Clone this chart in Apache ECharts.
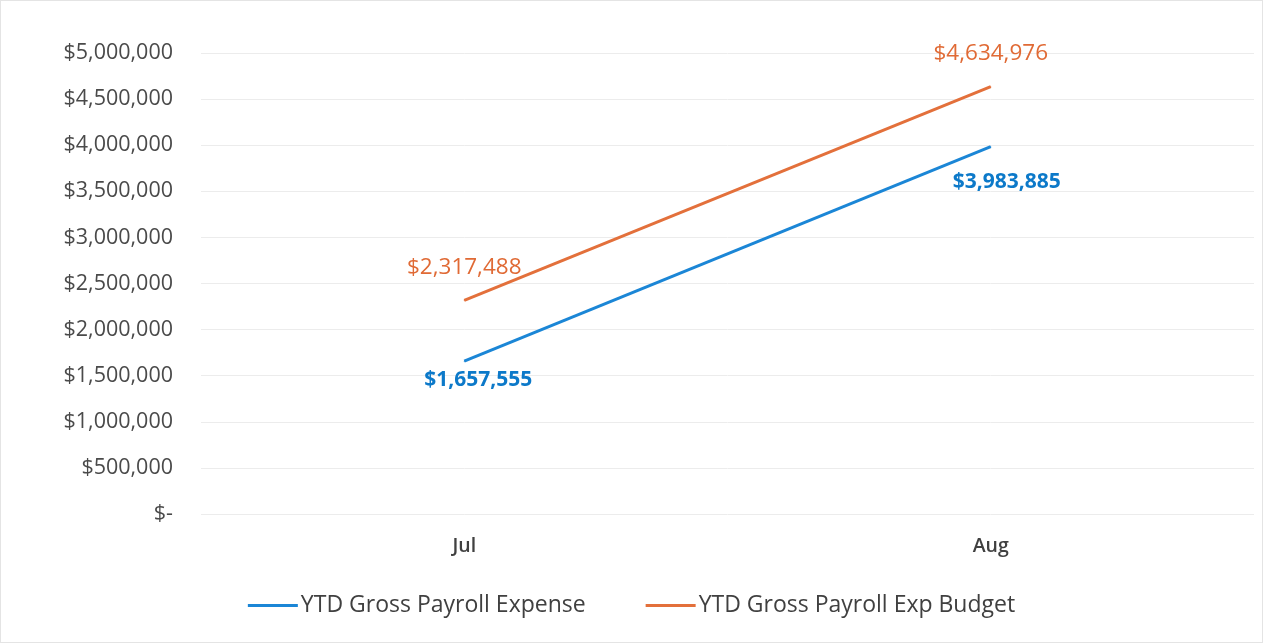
<!DOCTYPE html>
<html>
<head>
<meta charset="utf-8">
<script src="https://cdn.jsdelivr.net/npm/echarts@6/dist/echarts.min.js"></script>
<style>
  html, body { margin: 0; padding: 0; background: #fff; }
  #chart { width: 1263px; height: 643px; box-sizing: border-box; border: 1px solid #e4e4e4; }
</style>
</head>
<body>
<div id="chart"></div>
<script>
// months on the x axis
var months = ['Jul', 'Aug']
// YTD values
var payrollExpense = [1657555, 3983885]
var payrollBudget = [2317488, 4634976]
var seriesNames = ['YTD Gross Payroll Expense', 'YTD Gross Payroll Exp Budget']

function money(v) {
    if (v === 0) return '$-'
    return '$' + v.toString().replace(/\B(?=(\d{3})+(?!\d))/g, ',')
}

window.onload = function () {
    var chart = echarts.init(document.getElementById('chart'))
    var font = '"Open Sans", sans-serif'
    // blue labels sit a bit lower on Aug in the original
    var expenseData = payrollExpense.map(function (v, i) {
        return { value: v, label: { offset: i === 1 ? [16, 17] : [14, 1] } }
    })
    chart.setOption({
        animation: false,
        textStyle: { fontFamily: font },
        grid: { left: 200, right: 8, top: 52, bottom: 128 },
        legend: {
            bottom: 20,
            left: 'center',
            itemGap: 60,
            itemWidth: 50,
            itemHeight: 3,
            icon: 'rect',
            textStyle: { fontFamily: font, fontSize: 23, color: '#404040', padding: [0, 0, 0, -2] },
            data: seriesNames
        },
        xAxis: {
            type: 'category',
            data: months,
            boundaryGap: true,
            axisLine: { show: false },
            axisTick: { show: false },
            axisLabel: { margin: 22, fontSize: 19.5, fontWeight: 600, color: '#404040', fontFamily: font }
        },
        yAxis: {
            type: 'value',
            min: 0,
            max: 5000000,
            interval: 500000,
            axisLine: { show: false },
            axisTick: { show: false },
            splitLine: { lineStyle: { color: '#ececec', width: 1 } },
            axisLabel: { margin: 28, fontSize: 21.5, color: '#4a4a4a', fontFamily: font, formatter: money }
        },
        series: [
            {
                name: seriesNames[0],
                type: 'line',
                data: expenseData,
                symbol: 'circle',
                symbolSize: 1,
                itemStyle: { color: '#1b86d6' },
                lineStyle: { color: '#1b86d6', width: 3 },
                label: {
                    show: true,
                    position: 'bottom',
                    distance: 7,
                    fontSize: 21,
                    fontWeight: 'bold',
                    color: '#0c79c9',
                    fontFamily: font,
                    formatter: function (p) { return money(p.value) }
                }
            },
            {
                name: seriesNames[1],
                type: 'line',
                data: payrollBudget,
                symbol: 'circle',
                symbolSize: 1,
                itemStyle: { color: '#e3703b' },
                lineStyle: { color: '#e3703b', width: 3 },
                label: {
                    show: true,
                    position: 'top',
                    distance: 21,
                    fontSize: 22.5,
                    color: '#e06a35',
                    fontFamily: font,
                    formatter: function (p) { return money(p.value) }
                }
            }
        ]
    })
}
</script>
</body>
</html>
